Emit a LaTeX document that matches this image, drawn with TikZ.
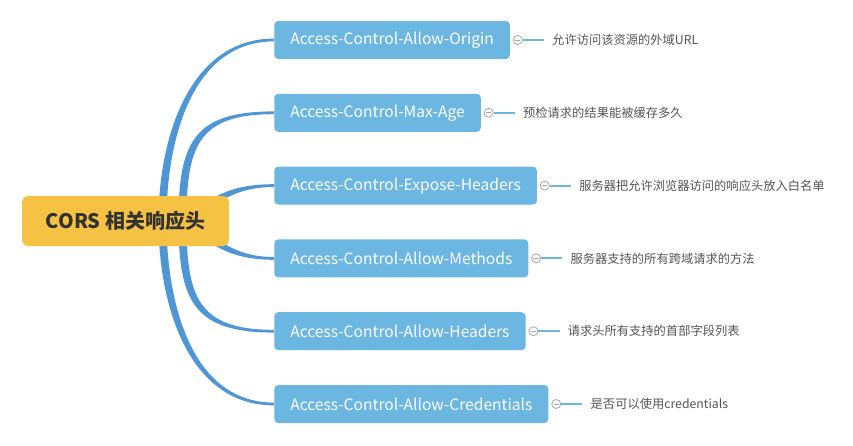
\documentclass[tikz,border=0pt]{standalone}
\usepackage{fontspec}
\setmainfont{Noto Sans CJK SC}
\usetikzlibrary{positioning,calc,backgrounds}
\definecolor{raiz}{HTML}{F6C243}
\definecolor{rama}{HTML}{6BB7E1}
\definecolor{conector}{HTML}{4F96D6}
\definecolor{texto}{HTML}{333333}
\definecolor{nota}{HTML}{555555}
\tikzset{
  raizbox/.style={fill=raiz, rounded corners=4pt, minimum width=155pt, minimum height=37.5pt,
    text=texto, font=\fontsize{15}{18}\selectfont\bfseries},
  ramabox/.style={fill=rama, rounded corners=3pt, minimum height=28.5pt, inner xsep=12pt,
    text=white, font=\fontsize{11.7}{14}\selectfont, anchor=west},
  punto/.style={circle, draw=gray!70, fill=white, line width=0.6pt, minimum size=6.75pt, inner sep=0pt,
    path picture={\draw[gray!70, line width=0.6pt] ([xshift=-2pt]path picture bounding box.center)
      -- ([xshift=2pt]path picture bounding box.center);}},
  notabox/.style={inner xsep=6pt, text=nota, font=\fontsize{9.2}{11}\selectfont},
  hoja/.style={draw=rama, line width=1.5pt}
}
\begin{document}
\begin{tikzpicture}[x=0.75pt, y=0.75pt]
  \useasboundingbox (0,0) rectangle (853,-446);
  % Nodo central
  \node[raizbox] (root) at (125.5,-221) {CORS 相关响应头};
  % Ramas
  \node[ramabox] (b1) at (274,-40) {Access-Control-Allow-Origin};
  \node[ramabox] (b2) at (274,-112.8) {Access-Control-Max-Age};
  \node[ramabox] (b3) at (274,-185.6) {Access-Control-Expose-Headers};
  \node[ramabox] (b4) at (274,-258.4) {Access-Control-Allow-Methods};
  \node[ramabox] (b5) at (274,-331.2) {Access-Control-Allow-Headers};
  \node[ramabox] (b6) at (274,-404) {Access-Control-Allow-Credentials};
  % Conectores
  \begin{scope}[on background layer]
    \foreach \n/\dx/\a/\l in {b1/37/90/1, b2/57/90/1.4, b3/65/45/1, b4/65/-45/1, b5/57/-90/1.4, b6/37/-90/1}
      \fill[conector] ($(root.center)+(\dx,0)+({\a+90}:4)$) to[out=\a, in=180, looseness=\l] ($(\n.west)+(0,1.4)$)
        -- ($(\n.west)+(0,-1.4)$) to[out=180, in=\a, looseness=\l] ($(root.center)+(\dx,0)+({\a-90}:4)$) -- cycle;
  \end{scope}
  % Notas
  \foreach \n/\t in {b1/允许访问该资源的外域URL, b2/预检请求的结果能被缓存多久,
      b3/服务器把允许浏览器访问的响应头放入白名单, b4/服务器支持的所有跨域请求的方法,
      b5/请求头所有支持的首部字段列表, b6/是否可以使用credentials} {
    \node[punto, right=2pt of \n] (c\n) {};
    \node[notabox, right=16pt of c\n] (d\n) {\t};
    \draw[hoja] (c\n) -- (d\n);
  }
\end{tikzpicture}
\end{document}
